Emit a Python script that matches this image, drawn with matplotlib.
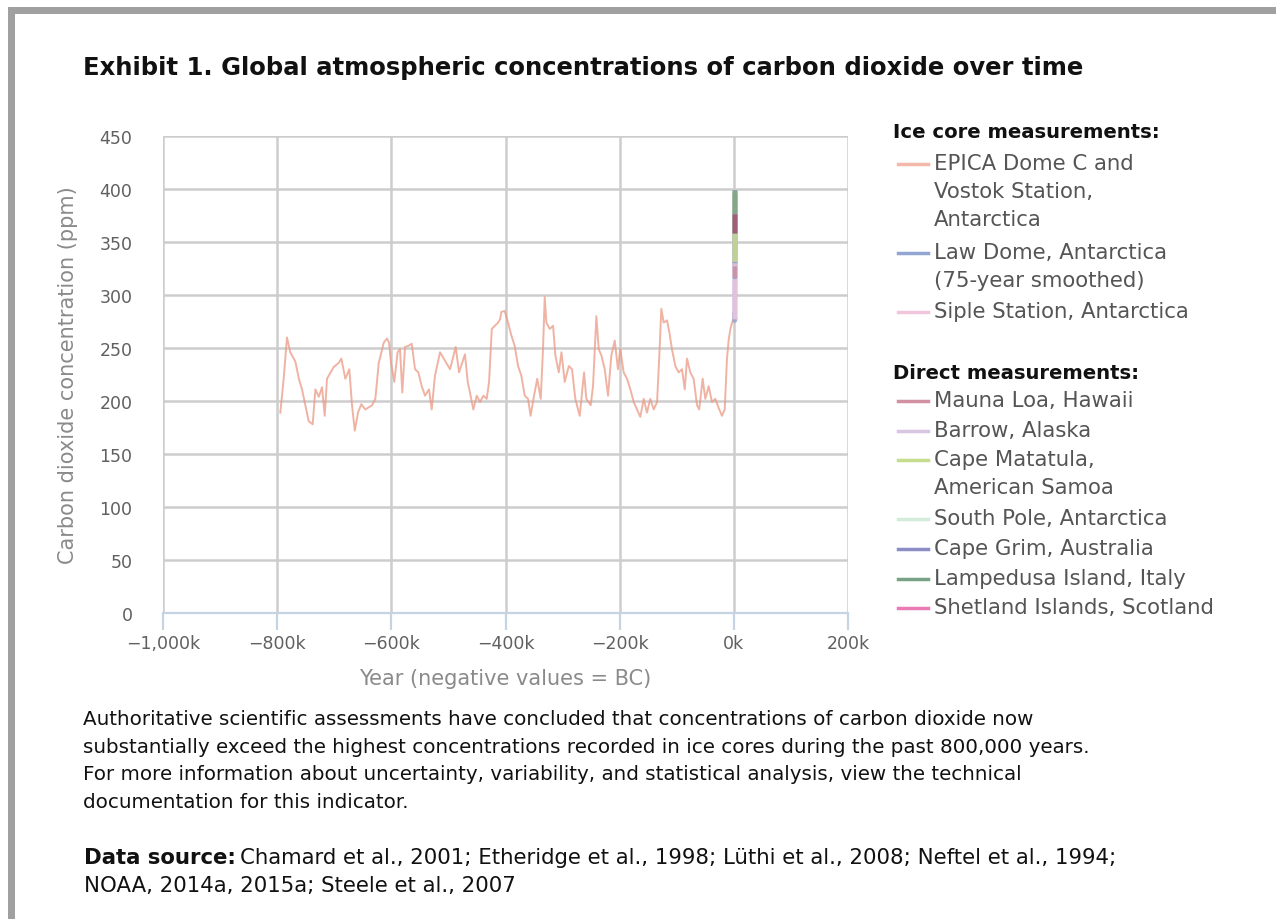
import matplotlib
matplotlib.use('Agg')
import matplotlib.pyplot as plt
from matplotlib.lines import Line2D
from matplotlib.patches import Rectangle
from matplotlib.ticker import FuncFormatter, MultipleLocator

# EPICA Dome C / Vostok ice core record (thousands of years, ppm)
epica_kyr = [-794.5, -788.6, -782.8, -777, -768, -762, -756.5, -750.7, -744.8, -737.8,
             -733, -727, -721.4, -716.7, -712.7, -701, -692, -687.6, -680.6, -673.6,
             -668.9, -664, -658.4, -652.6, -645.6, -633.8, -628, -622, -613.3, -607.6,
             -604, -600.6, -594.8, -589, -584.8, -580.8, -576, -570.2, -564.3, -558.5,
             -552.7, -546.8, -541, -534, -529.3, -523.5, -514.7, -506, -497.2, -487.2,
             -481.4, -471, -466.2, -462.2, -456.4, -450.4, -444.6, -438.8, -432.9, -428.8,
             -424, -418.4, -413, -409.6, -407.3, -401.4, -395.6, -389.8, -383.9, -378,
             -372.3, -366.3, -360.5, -356, -350, -344.4, -338.3, -334.3, -331.3, -328.4,
             -322.5, -316.7, -312.6, -306.7, -302, -296.3, -289, -283.5, -277.7, -270,
             -262.4, -258.4, -250.7, -246.7, -240.8, -236.7, -232, -226.2, -220.4, -214.6,
             -208.6, -203, -199, -193, -187.1, -181.3, -175.4, -169.6, -163.8, -157.9,
             -152.2, -146.4, -140.4, -134.5, -130.5, -127, -122.9, -117, -113, -108.4,
             -102.5, -96.6, -90.8, -86, -82, -76.3, -70.4, -64.5, -60.6, -54.6,
             -50, -44, -38.3, -32.5, -25.5, -20.7, -16, -12, -9, -6,
             -3, -1]
epica_ppm = [189, 221, 260, 246, 237, 221, 211, 196, 181, 178,
             211, 204, 213, 186, 221, 232, 236, 240, 221, 230,
             196, 172, 189, 197, 192, 196, 202, 236, 255, 259,
             255, 236, 218, 246, 249, 208, 251, 252, 254, 230,
             227, 214, 205, 211, 192, 224, 246, 238, 230, 251,
             227, 244, 218, 208, 192, 205, 199, 205, 202, 218,
             268, 271, 274, 277, 284, 285, 274, 262, 252, 233,
             224, 205, 202, 186, 205, 221, 202, 249, 298, 274,
             268, 271, 243, 227, 246, 218, 233, 230, 202, 186,
             227, 202, 196, 214, 280, 249, 243, 230, 205, 243,
             257, 230, 249, 227, 221, 211, 199, 192, 185, 202,
             189, 202, 192, 199, 243, 287, 274, 276, 265, 249,
             233, 227, 230, 211, 240, 227, 221, 196, 192, 221,
             202, 214, 199, 202, 192, 186, 192, 240, 258, 268,
             274, 277]

# Recent records (calendar year AD, ppm)
law_dome_yr = [1010, 1200, 1400, 1600, 1800, 1900, 1950, 1975]
law_dome_ppm = [279, 282, 280, 276, 283, 296, 311, 331]
siple_yr = [1744, 1800, 1850, 1900, 1953]
siple_ppm = [277, 281, 286, 297, 315]
mauna_loa_yr = [1959, 1970, 1980, 1990, 2000, 2010, 2014]
mauna_loa_ppm = [316, 326, 339, 354, 369, 390, 398]
barrow_yr = [1971, 1980, 1990, 2000, 2010, 2014]
barrow_ppm = [327, 341, 356, 371, 392, 400]
south_pole_yr = [1976, 1990, 2000, 2010, 2014]
south_pole_ppm = [330, 352, 368, 388, 396]
cape_grim_yr = [1976, 1990, 2000, 2010, 2014]
cape_grim_ppm = [330, 352, 368, 387, 396]
matatula_yr = [1976, 1980, 1990, 2000, 2010, 2014]
matatula_ppm = [331, 337, 353, 368, 388, 396]
lampedusa_yr = [1993, 2000, 2010, 2014]
lampedusa_ppm = [358, 370, 390, 399]
shetland_yr = [1993, 1997, 2003]
shetland_ppm = [358, 364, 376]

ice_labels = ['EPICA Dome C and\nVostok Station,\nAntarctica',
              'Law Dome, Antarctica\n(75-year smoothed)',
              'Siple Station, Antarctica']
ice_colors = ['#f2b9aa', '#93a5d3', '#efc6dc']
direct_labels = ['Mauna Loa, Hawaii', 'Barrow, Alaska',
                 'Cape Matatula,\nAmerican Samoa', 'South Pole, Antarctica',
                 'Cape Grim, Australia', 'Lampedusa Island, Italy',
                 'Shetland Islands, Scotland']
direct_colors = ['#d290a3', '#d9c6e2', '#c6dd8e', '#d3ecd9', '#8c8dc6', '#77a286', '#ec7ab4']

title = 'Exhibit 1. Global atmospheric concentrations of carbon dioxide over time'
body = ('Authoritative scientific assessments have concluded that concentrations of carbon dioxide now\n'
        'substantially exceed the highest concentrations recorded in ice cores during the past 800,000 years.\n'
        'For more information about uncertainty, variability, and statistical analysis, view the technical\n'
        'documentation for this indicator.')

W, H = 1276, 920
fig = plt.figure(figsize=(W / 100, H / 100), dpi=100)
fig.patch.set_facecolor('white')

# grey frame on the left and top
fig.add_artist(Rectangle((8 / W, 0), 7 / W, 1 - 8 / H, transform=fig.transFigure,
                         color='#a0a0a0', lw=0))
fig.add_artist(Rectangle((8 / W, 1 - 15 / H), 1 - 8 / W, 7 / H, transform=fig.transFigure,
                         color='#a0a0a0', lw=0))

ax = fig.add_axes([163 / W, 1 - 614 / H, 685 / W, 477 / H])
ax.set_xlim(-1000000, 200000)
ax.set_ylim(0, 450)
ax.xaxis.set_major_locator(MultipleLocator(200000))
ax.yaxis.set_major_locator(MultipleLocator(50))
ax.grid(True, color='#cdcdcd', lw=1.8)
ax.set_axisbelow(True)
for s in ['top', 'right', 'left']:
    ax.spines[s].set_visible(False)
ax.spines['bottom'].set_color('#c5d3e2')
ax.spines['bottom'].set_linewidth(1.6)
ax.tick_params(axis='y', length=0, pad=22, labelsize=12.5, labelcolor='#606060')
ax.tick_params(axis='x', length=12, width=1.6, color='#c5d3e2', pad=3,
               labelsize=12.5, labelcolor='#606060')


def fmt_k(v, pos):
    k = int(round(v / 1000))
    s = '{:,}k'.format(abs(k))
    return '\u2212' + s if k < 0 else s


ax.xaxis.set_major_formatter(FuncFormatter(fmt_k))

ax.plot([v * 1000 for v in epica_kyr], epica_ppm, color='#eb9a84', lw=1.4, alpha=0.75)

recent = [(law_dome_yr, law_dome_ppm, ice_colors[1]),
          (siple_yr, siple_ppm, ice_colors[2]),
          (mauna_loa_yr, mauna_loa_ppm, direct_colors[0]),
          (barrow_yr, barrow_ppm, direct_colors[1]),
          (south_pole_yr, south_pole_ppm, direct_colors[3]),
          (cape_grim_yr, cape_grim_ppm, direct_colors[4]),
          (matatula_yr, matatula_ppm, direct_colors[2]),
          (lampedusa_yr, lampedusa_ppm, direct_colors[5]),
          (shetland_yr, shetland_ppm, '#a8507a')]
for xs, ys, c in recent:
    ax.plot(xs, ys, color=c, lw=3.5, alpha=0.85, solid_capstyle='butt')

ax.set_ylabel('Carbon dioxide concentration (ppm)', fontsize=15, color='#8a8a8a')
ax.set_xlabel('Year (negative values = BC)', fontsize=15, color='#8a8a8a')
ax.yaxis.set_label_coords((78 - 163) / 685, 0.5)
ax.xaxis.set_label_coords(0.5, (614 - 669) / 477)

fig.text(83 / W, 1 - 68 / H, title, fontsize=17.5, fontweight='bold', va='center', color='#111111')


# legend drawn by hand, two groups
def legend_group(header, labels, colors, y0, gap):
    fig.text(893 / W, 1 - y0 / H, header, fontsize=14.1, fontweight='bold',
             va='center', color='#111111')
    y = y0 + gap
    for lab, c in zip(labels, colors):
        fig.add_artist(Line2D([898 / W, 928 / W], [1 - y / H, 1 - y / H],
                              transform=fig.transFigure, color=c, lw=2.5))
        fig.text(934 / W, 1 - (y - 11) / H, lab, fontsize=15.3, color='#555555',
                 va='top', linespacing=1.5)
        y += 29.6 * (lab.count('\n') + 1)


legend_group('Ice core measurements:', ice_labels, ice_colors, 133, 32)
legend_group('Direct measurements:', direct_labels, direct_colors, 374, 28)

fig.text(83 / W, 1 - 710 / H, body, fontsize=14.3, va='top', color='#111111', linespacing=1.58)

t1 = fig.text(84 / W, 1 - 864 / H, 'Data source:', fontsize=15.3, fontweight='bold',
              va='baseline', color='#111111')
fig.canvas.draw()
bb = t1.get_window_extent()
fig.text(bb.x1 / W + 4 / W, 1 - 864 / H,
         'Chamard et al., 2001; Etheridge et al., 1998; L\u00fcthi et al., 2008; Neftel et al., 1994;',
         fontsize=15.3, va='baseline', color='#111111')
fig.text(84 / W, 1 - 892 / H, 'NOAA, 2014a, 2015a; Steele et al., 2007', fontsize=15.3,
         va='baseline', color='#111111')

fig.savefig('out.png', dpi=100, facecolor='white')
